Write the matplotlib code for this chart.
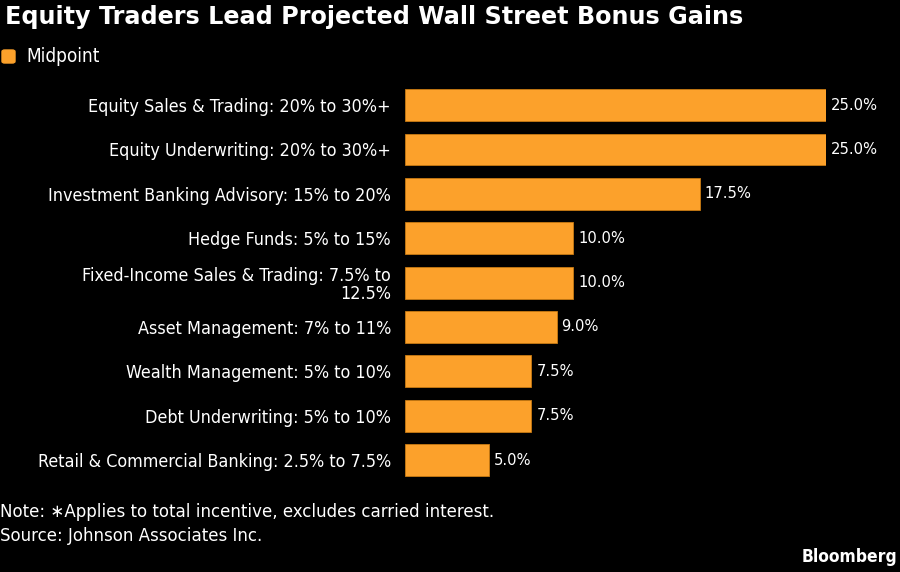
import matplotlib.pyplot as plt
from matplotlib.patches import FancyBboxPatch

categories = [
    "Equity Sales & Trading: 20% to 30%+",
    "Equity Underwriting: 20% to 30%+",
    "Investment Banking Advisory: 15% to 20%",
    "Hedge Funds: 5% to 15%",
    "Fixed-Income Sales & Trading: 7.5% to\n12.5%",
    "Asset Management: 7% to 11%",
    "Wealth Management: 5% to 10%",
    "Debt Underwriting: 5% to 10%",
    "Retail & Commercial Banking: 2.5% to 7.5%",
]
midpoints = [25.0, 25.0, 17.5, 10.0, 10.0, 9.0, 7.5, 7.5, 5.0]

orange = "#FCA12B"

plt.rcParams["font.family"] = ["DejaVu Sans"]
plt.rcParams["font.stretch"] = "condensed"

fig = plt.figure(figsize=(9, 5.72), dpi=100, facecolor="black")
ax = fig.add_axes([405 / 900, 0.157, (826 - 405) / 900, 0.698])
ax.set_facecolor("black")

y = list(range(len(categories)))
ax.barh(y, midpoints, height=0.72, color=orange, edgecolor="#C97A12", linewidth=0.6)
ax.set_xlim(0, 25)
ax.set_ylim(len(categories) - 0.5, -0.5)

for yi, v in zip(y, midpoints):
    ax.text(v + 0.3, yi, f"{v:.1f}%", color="white", va="center", ha="left", fontsize=11.8)

ax.set_yticks(y)
ax.set_yticklabels(categories, color="white", fontsize=12.9, linespacing=1.05)
ax.tick_params(axis="y", length=0, pad=10)
ax.set_xticks([])
for s in ax.spines.values():
    s.set_visible(False)

fig.text(5 / 900, 1 - 17 / 572, "Equity Traders Lead Projected Wall Street Bonus Gains",
         color="white", fontsize=17.2, fontweight="bold", family="DejaVu Sans",
         stretch="normal", va="center", ha="left")

fig.patches.append(FancyBboxPatch((2 / 900, 1 - 63 / 572), 13 / 900, 13 / 572,
                                  boxstyle="round,pad=0,rounding_size=0.003",
                                  transform=fig.transFigure, color=orange))
fig.text(26 / 900, 1 - 56 / 572, "Midpoint", color="white", fontsize=13.6,
         va="center", ha="left")

fig.text(0, 1 - 512 / 572, "Note: ∗Applies to total incentive, excludes carried interest.",
         color="white", fontsize=13.3, va="center", ha="left")
fig.text(0, 1 - 536 / 572, "Source: Johnson Associates Inc.",
         color="white", fontsize=13.3, va="center", ha="left")
fig.text(897 / 900, 1 - 557 / 572, "Bloomberg", color="white", fontsize=12.5,
         fontweight="bold", va="center", ha="right")

fig.savefig("out.png", dpi=100, facecolor="black")
